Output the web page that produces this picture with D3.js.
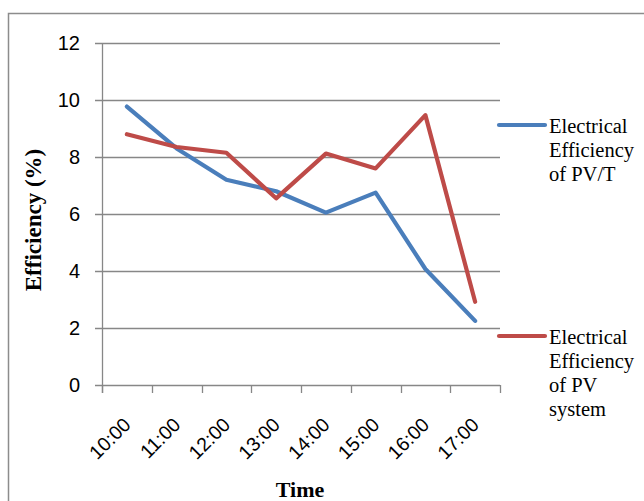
<!DOCTYPE html>
<html>
<head>
<meta charset="utf-8">
<script src="https://cdn.jsdelivr.net/npm/d3@7"></script>
<style>
  body { margin: 0; background: #fff; }
  svg { display: block; }
</style>
</head>
<body>
<svg id="chart" width="644" height="501"></svg>
<script>
// chart data
const times = ["10:00", "11:00", "12:00", "13:00", "14:00", "15:00", "16:00", "17:00"];
const pvtEff = [9.77, 8.3, 7.2, 6.8, 6.05, 6.75, 4.07, 2.25];
const pvEff = [8.8, 8.35, 8.15, 6.55, 8.12, 7.6, 9.47, 2.92];
const yTicks = [0, 2, 4, 6, 8, 10, 12];
const seriesNames = [
    ["Electrical", "Efficiency", "of PV/T"],
    ["Electrical", "Efficiency", "of PV", "system"]
];

const blue = "#4a7ebb",
    red = "#be4b48",
    grid = "#878787";

let svg = d3.select("#chart");

// outer chart border (cut off at right/bottom like the reference)
svg.append("rect")
    .attr("x", 8.5).attr("y", 13.5)
    .attr("width", 700).attr("height", 600)
    .attr("fill", "none")
    .attr("stroke", "#8c8c8c")
    .attr("stroke-width", 1.5);

let plot = {left: 102, right: 500, top: 43, bottom: 385};

let xScale = d3.scaleBand().domain(times).range([plot.left, plot.right]),
    yScale = d3.scaleLinear().domain([0, 12]).range([plot.bottom, plot.top]);
let xMid = d => xScale(d) + xScale.bandwidth() / 2;

// horizontal gridlines + little tick to the left
svg.append("g")
    .selectAll("line")
    .data(yTicks)
    .enter().append("line")
    .attr("x1", plot.left - 7)
    .attr("x2", plot.right)
    .attr("y1", d => Math.round(yScale(d)) + 0.5)
    .attr("y2", d => Math.round(yScale(d)) + 0.5)
    .attr("stroke", grid)
    .attr("stroke-width", 1.3);

// y axis line
svg.append("line")
    .attr("x1", plot.left + 0.5).attr("x2", plot.left + 0.5)
    .attr("y1", plot.top).attr("y2", plot.bottom + 8)
    .attr("stroke", grid).attr("stroke-width", 1.3);

// x tick marks on band edges
let edges = times.map(t => xScale(t)).concat([plot.right]);
svg.append("g")
    .selectAll("line")
    .data(edges)
    .enter().append("line")
    .attr("x1", d => Math.round(d) + 0.5)
    .attr("x2", d => Math.round(d) + 0.5)
    .attr("y1", plot.bottom)
    .attr("y2", plot.bottom + 8)
    .attr("stroke", grid).attr("stroke-width", 1.3);

// y tick labels
svg.append("g")
    .selectAll("text")
    .data(yTicks)
    .enter().append("text")
    .attr("x", 80)
    .attr("y", d => yScale(d))
    .attr("dy", "0.36em")
    .attr("text-anchor", "end")
    .style("font-family", "'Liberation Sans', Arial, sans-serif")
    .style("font-size", "20px")
    .attr("fill", "#000")
    .text(d => d);

// x tick labels, rotated
svg.append("g")
    .selectAll("text")
    .data(times)
    .enter().append("text")
    .attr("transform", d => "translate(" + (xMid(d) + 5) + ",426) rotate(-45)")
    .attr("text-anchor", "end")
    .style("font-family", "'Liberation Sans', Arial, sans-serif")
    .style("font-size", "19.5px")
    .attr("fill", "#000")
    .text(d => d);

// axis titles
svg.append("text")
    .attr("transform", "translate(41,220) rotate(-90)")
    .attr("text-anchor", "middle")
    .style("font-family", "'Liberation Serif', 'Times New Roman', serif")
    .style("font-size", "23px")
    .style("font-weight", "bold")
    .text("Efficiency (%)");

svg.append("text")
    .attr("x", 300)
    .attr("y", 497)
    .attr("text-anchor", "middle")
    .style("font-family", "'Liberation Serif', 'Times New Roman', serif")
    .style("font-size", "22px")
    .style("font-weight", "bold")
    .text("Time");

// lines
let line = d3.line()
    .x((d, i) => xMid(times[i]))
    .y(d => yScale(d));

[[pvtEff, blue], [pvEff, red]].forEach(function (s) {
    svg.append("path")
        .datum(s[0])
        .attr("d", line)
        .attr("fill", "none")
        .attr("stroke", s[1])
        .attr("stroke-width", 4.2)
        .attr("stroke-linejoin", "round")
        .attr("stroke-linecap", "round");
});

// legend
let legendY = [125, 336],
    legendColors = [blue, red];
seriesNames.forEach(function (lines, k) {
    let g = svg.append("g");
    g.append("line")
        .attr("x1", 499).attr("x2", 545)
        .attr("y1", legendY[k]).attr("y2", legendY[k])
        .attr("stroke", legendColors[k])
        .attr("stroke-width", 4.2)
        .attr("stroke-linecap", "round");
    g.selectAll("text")
        .data(lines)
        .enter().append("text")
        .attr("x", 549)
        .attr("y", (d, i) => legendY[k] + 8 + i * 24)
        .style("font-family", "'Liberation Serif', 'Times New Roman', serif")
        .style("font-size", "20.5px")
        .attr("fill", "#000")
        .text(d => d);
});
</script>
</body>
</html>
